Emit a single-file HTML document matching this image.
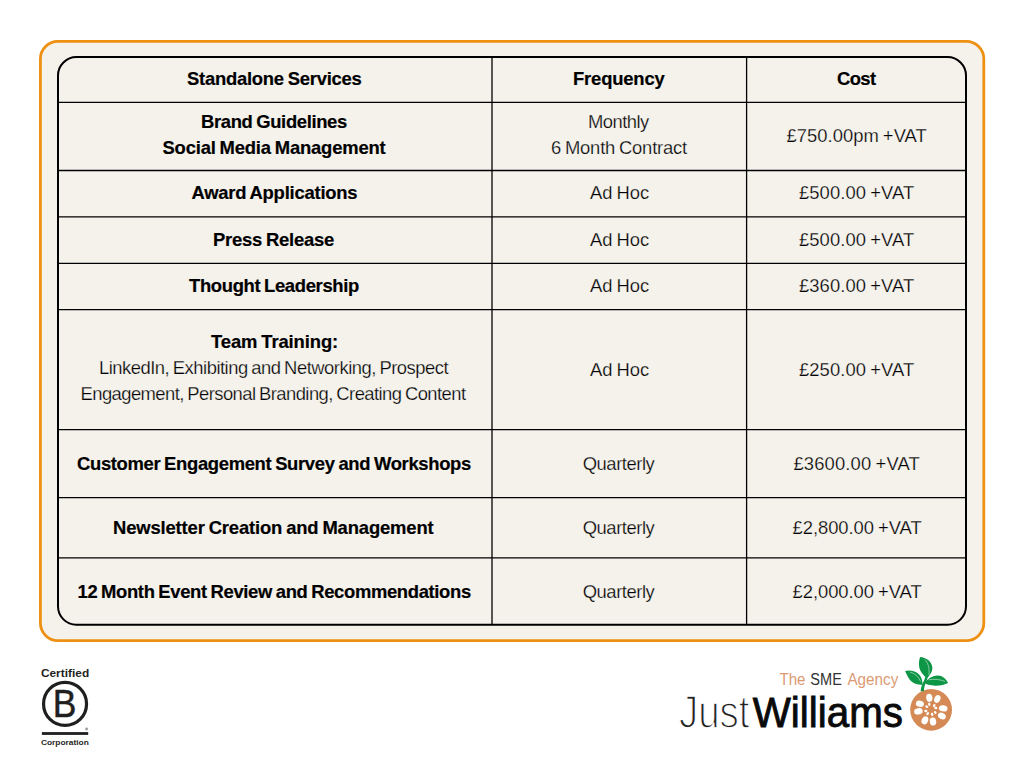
<!DOCTYPE html>
<html lang="en">
<head>
<meta charset="utf-8">
<title>Standalone Services</title>
<style>
  html, body { margin: 0; padding: 0; }
  body { width: 1024px; height: 768px; background: #ffffff; position: relative; overflow: hidden;
         font-family: "Liberation Sans", Arial, sans-serif; }
  svg.frame { position: absolute; left: 0; top: 0; }
  .t { position: absolute; white-space: nowrap; line-height: 22px; font-size: 18.4px; word-spacing: -1px; }
  .b { font-weight: 700; color: #000; -webkit-text-stroke: 0.2px #000; }
  .r { font-weight: 400; color: #000; -webkit-text-stroke: 0.25px #F5F2EC; }
</style>
</head>
<body>
<svg class="frame" width="1024" height="768" viewBox="0 0 1024 768">
  <rect x="40.4" y="41.3" width="943.4" height="599.3" rx="17.5" ry="17.5" fill="#F5F2EC" stroke="#EE9012" stroke-width="2.8"/>
  <rect x="58" y="57" width="908" height="567.8" rx="18.5" ry="18.5" fill="none" stroke="#000" stroke-width="2"/>
  <g stroke="#000" stroke-width="1.3">
    <line x1="58" y1="102.4" x2="966" y2="102.4"/>
    <line x1="58" y1="170.5" x2="966" y2="170.5"/>
    <line x1="58" y1="216.9" x2="966" y2="216.9"/>
    <line x1="58" y1="263.4" x2="966" y2="263.4"/>
    <line x1="58" y1="309.6" x2="966" y2="309.6"/>
    <line x1="58" y1="429.6" x2="966" y2="429.6"/>
    <line x1="58" y1="497.6" x2="966" y2="497.6"/>
    <line x1="58" y1="557.8" x2="966" y2="557.8"/>
    <line x1="492" y1="57" x2="492" y2="624.8"/>
    <line x1="746.6" y1="57" x2="746.6" y2="624.8"/>
  </g>
</svg>

<div class="t b" style="left:187.00px;top:68px;letter-spacing:-0.232px">Standalone Services</div>
<div class="t b" style="left:573.00px;top:68px;letter-spacing:-0.161px">Frequency</div>
<div class="t b" style="left:837.00px;top:68px;letter-spacing:-0.580px">Cost</div>
<div class="t b" style="left:201.00px;top:111px;letter-spacing:-0.335px">Brand Guidelines</div>
<div class="t b" style="left:162.50px;top:137px;letter-spacing:-0.173px">Social Media Management</div>
<div class="t r" style="left:588.00px;top:111px;letter-spacing:-0.532px">Monthly</div>
<div class="t r" style="left:551.00px;top:137px;letter-spacing:-0.197px">6 Month Contract</div>
<div class="t r" style="left:786.50px;top:125px;letter-spacing:0.024px">£750.00pm +VAT</div>
<div class="t b" style="left:191.50px;top:182px;letter-spacing:-0.212px">Award Applications</div>
<div class="t r" style="left:590.00px;top:182px;letter-spacing:-0.023px">Ad Hoc</div>
<div class="t r" style="left:799.00px;top:182px;letter-spacing:0.081px">£500.00 +VAT</div>
<div class="t b" style="left:213.00px;top:229px;letter-spacing:-0.209px">Press Release</div>
<div class="t r" style="left:590.00px;top:229px;letter-spacing:-0.023px">Ad Hoc</div>
<div class="t r" style="left:799.00px;top:229px;letter-spacing:0.081px">£500.00 +VAT</div>
<div class="t b" style="left:189.00px;top:275px;letter-spacing:-0.326px">Thought Leadership</div>
<div class="t r" style="left:590.00px;top:275px;letter-spacing:-0.023px">Ad Hoc</div>
<div class="t r" style="left:799.00px;top:275px;letter-spacing:0.078px">£360.00 +VAT</div>
<div class="t b" style="left:211.00px;top:331px;letter-spacing:-0.100px">Team Training:</div>
<div class="t r" style="left:99.00px;top:357px;letter-spacing:-0.491px">LinkedIn, Exhibiting and Networking, Prospect</div>
<div class="t r" style="left:80.50px;top:383px;letter-spacing:-0.555px">Engagement, Personal Branding, Creating Content</div>
<div class="t r" style="left:590.00px;top:359px;letter-spacing:-0.023px">Ad Hoc</div>
<div class="t r" style="left:799.00px;top:359px;letter-spacing:0.079px">£250.00 +VAT</div>
<div class="t b" style="left:77.00px;top:453px;letter-spacing:-0.314px">Customer Engagement Survey and Workshops</div>
<div class="t r" style="left:582.75px;top:453px;letter-spacing:-0.459px">Quarterly</div>
<div class="t r" style="left:793.50px;top:453px;letter-spacing:0.137px">£3600.00 +VAT</div>
<div class="t b" style="left:113.00px;top:517px;letter-spacing:-0.134px">Newsletter Creation and Management</div>
<div class="t r" style="left:582.75px;top:517px;letter-spacing:-0.459px">Quarterly</div>
<div class="t r" style="left:792.50px;top:517px;letter-spacing:-0.037px">£2,800.00 +VAT</div>
<div class="t b" style="left:77.50px;top:581px;letter-spacing:-0.330px">12 Month Event Review and Recommendations</div>
<div class="t r" style="left:582.75px;top:581px;letter-spacing:-0.459px">Quarterly</div>
<div class="t r" style="left:792.50px;top:581px;letter-spacing:-0.037px">£2,000.00 +VAT</div>

<svg class="frame" width="1024" height="768" viewBox="0 0 1024 768">
  <!-- B Corp -->
  <circle cx="65.05" cy="703.9" r="21.5" fill="none" stroke="#1f1f1f" stroke-width="3.2"/>
  <rect x="41.9" y="732.1" width="46.3" height="2.8" fill="#1f1f1f"/>
  <circle cx="86.6" cy="729" r="1.4" fill="#9a9a9a"/>
  <!-- Just Williams fruit -->
  <circle cx="931.1" cy="709.8" r="20.9" fill="#D58A56"/>
  <g fill="#ffffff">
    <ellipse cx="929.3" cy="697.8" rx="3.1" ry="4.1" transform="rotate(-8 929.3 697.8)"/>
    <ellipse cx="937.3" cy="699.0" rx="3.0" ry="4.0" transform="rotate(25 937.3 699.0)"/>
    <ellipse cx="943.2" cy="708.3" rx="4.3" ry="3.1" transform="rotate(8 943.2 708.3)"/>
    <ellipse cx="941.9" cy="716.0" rx="4.1" ry="3.1" transform="rotate(28 941.9 716.0)"/>
    <ellipse cx="933.0" cy="721.5" rx="3.2" ry="4.1" transform="rotate(-8 933.0 721.5)"/>
    <ellipse cx="924.9" cy="720.3" rx="3.2" ry="4.1" transform="rotate(25 924.9 720.3)"/>
    <ellipse cx="918.4" cy="711.3" rx="4.3" ry="3.2" transform="rotate(-8 918.4 711.3)"/>
    <ellipse cx="919.9" cy="703.8" rx="4.1" ry="3.1" transform="rotate(12 919.9 703.8)"/>
    <ellipse cx="929.3" cy="704.3" rx="1.2" ry="1.6" transform="rotate(-10 929.3 704.3)"/>
    <ellipse cx="934.2" cy="705.5" rx="1.2" ry="1.6" transform="rotate(35 934.2 705.5)"/>
    <ellipse cx="935.8" cy="708.0" rx="1.6" ry="1.2" transform="rotate(10 935.8 708.0)"/>
    <ellipse cx="935.2" cy="712.6" rx="1.2" ry="1.6" transform="rotate(-40 935.2 712.6)"/>
    <ellipse cx="932.1" cy="714.4" rx="1.2" ry="1.6" transform="rotate(-10 932.1 714.4)"/>
    <ellipse cx="927.7" cy="713.6" rx="1.2" ry="1.6" transform="rotate(35 927.7 713.6)"/>
    <ellipse cx="925.8" cy="711.0" rx="1.6" ry="1.2" transform="rotate(-10 925.8 711.0)"/>
    <ellipse cx="926.8" cy="706.6" rx="1.6" ry="1.2" transform="rotate(40 926.8 706.6)"/>
  </g>
  <!-- leaves -->
  <g fill="#0E9647">
    <path d="M920.6 691.2 C921.0 687.5 922.0 684.5 923.6 681.5 C924.6 679.5 925.3 677.5 925.6 675.5 L928.0 676.0 C927.6 678.5 926.8 680.8 925.8 682.8 C924.6 685.3 924.0 688.2 923.9 691.2 Z"/>
    <path d="M920.1 657.1 C926 657.5 931.8 661.5 932.3 667.5 C932.6 671.5 929.8 675.5 926.8 678.2 C923 675 920.2 671.5 919.3 667.5 C918.6 664 919.0 660 920.1 657.1 Z"/>
    <path d="M905.1 671.1 C909.5 669.8 915.5 670.8 919.3 674.8 C921.6 677.2 922.6 680.8 922.6 685.0 C917.8 685 912.5 683.2 909.8 679.8 C907.8 677.2 906.5 674.0 905.1 671.1 Z"/>
    <path d="M924.8 683.6 C926.5 679.5 932 675.8 937.6 675.6 C942 675.4 946 679 948.1 682.9 C945 684.6 940 685.9 935 685.7 C931 685.5 927.5 684.8 924.8 683.6 Z"/>
  </g>
  <g fill="none" stroke="#ffffff" stroke-width="0.55" stroke-linecap="round" opacity="0.9">
    <path d="M925.0 660.0 C928.0 662.5 929.6 667.5 929.0 674.6"/>
    <path d="M910.2 672.1 C914.5 673.2 918.6 676.5 920.4 681.0"/>
    <path d="M929.0 679.7 C934.5 678.8 940.5 679.4 944.6 681.3"/>
  </g>
  <text x="40.90" y="676.90" font-family="Liberation Sans, sans-serif" font-weight="700" font-size="11.0" textLength="48.28" lengthAdjust="spacingAndGlyphs" fill="#1f1f1f" >Certified</text>
  <text x="40.90" y="744.60" font-family="Liberation Sans, sans-serif" font-weight="700" font-size="7.2" textLength="47.96" lengthAdjust="spacingAndGlyphs" fill="#1f1f1f" >Corporation</text>
  <text x="52.70" y="716.90" font-family="Liberation Sans, sans-serif" font-weight="400" font-size="38.0" textLength="23.66" lengthAdjust="spacingAndGlyphs" fill="#1f1f1f" stroke="#1f1f1f" stroke-width="0.5">B</text>
  <text x="779.40" y="684.70" font-family="Liberation Sans, sans-serif" font-weight="400" font-size="16.3" textLength="26.15" lengthAdjust="spacingAndGlyphs" fill="#DB9A73" >The</text>
  <text x="810.30" y="684.70" font-family="Liberation Sans, sans-serif" font-weight="400" font-size="16.3" textLength="31.57" lengthAdjust="spacingAndGlyphs" fill="#333333" >SME</text>
  <text x="847.40" y="684.70" font-family="Liberation Sans, sans-serif" font-weight="400" font-size="16.3" textLength="50.99" lengthAdjust="spacingAndGlyphs" fill="#DB9A73" >Agency</text>
  <text x="679.00" y="727.90" font-family="Liberation Sans, sans-serif" font-weight="400" font-size="46.5" textLength="70.53" lengthAdjust="spacingAndGlyphs" fill="#222222" stroke="#ffffff" stroke-width="1.5">Just</text>
  <text x="752.80" y="727.20" font-family="Liberation Sans, sans-serif" font-weight="400" font-size="43.3" textLength="150.10" lengthAdjust="spacingAndGlyphs" fill="#0a0a0a" stroke="#0a0a0a" stroke-width="0.9">Williams</text>
</svg>
</body>
</html>
